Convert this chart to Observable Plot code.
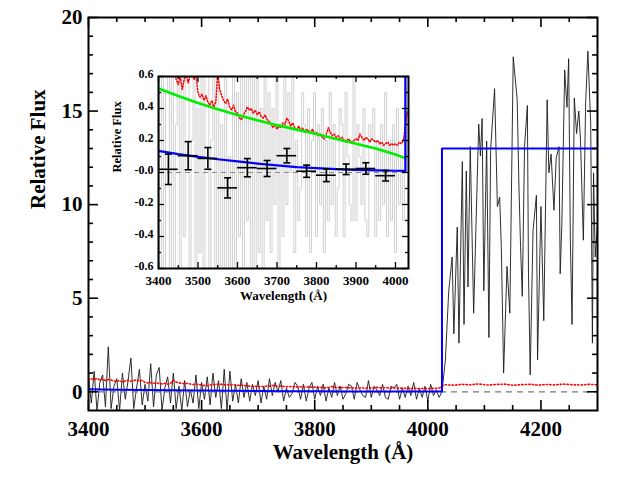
<!DOCTYPE html>
<html><head><meta charset="utf-8">
<script src="https://cdn.jsdelivr.net/npm/d3@7"></script>
<script src="https://cdn.jsdelivr.net/npm/@observablehq/plot@0.6"></script>
<style>
body{margin:0;background:#fff;}
#wrap{position:relative;width:630px;height:480px;overflow:hidden;}
#wrap svg{position:absolute;}
#wrap svg text{font-family:'Liberation Serif','Times New Roman',serif;}
</style></head><body><div id="wrap"></div>
<script>
// ---------- DATA ----------
const specWave = [
3400,3405,3410,3415,3420,3425,3430,3435,3440,3445,
3450,3455,3460,3465,3470,3475,3480,3485,3490,3495,
3500,3505,3510,3515,3520,3525,3530,3535,3540,3545,
3550,3555,3560,3565,3570,3575,3580,3585,3590,3595,
3600,3605,3610,3615,3620,3625,3630,3635,3640,3645,
3650,3655,3660,3665,3670,3675,3680,3685,3690,3695,
3700,3705,3710,3715,3720,3725,3730,3735,3740,3745,
3750,3755,3760,3765,3770,3775,3780,3785,3790,3795,
3800,3805,3810,3815,3820,3825,3830,3835,3840,3845,
3850,3855,3860,3865,3870,3875,3880,3885,3890,3895,
3900,3905,3910,3915,3920,3925,3930,3935,3940,3945,
3950,3955,3960,3965,3970,3975,3980,3985,3990,3995,
4000,4005,4010,4015,4020,
4025,4031,4037,4043,4046,4052,4055,4061,4064,4068,4071,4075,4081,4090,4093,4096,4099,4104,4108,4111,
4118,4123,4127,4130,4134,4140,4145,4151,4158,4161,4164,4167,4171,4176,4178,4181,4186,4192,4194,4200,
4205,4211,4214,4218,4223,4227,4232,4234,4237,4242,4246,4249,4252,4255,4259,4263,4267,4270,4275,4279,
4283,4288,4291,4293,4296,4300];
const specFlux = [
0.8,-0.6,1.1,-1.0,0.5,0.9,-0.8,2.4,-0.9,0.3,
0.7,-1.0,1.0,-0.4,0.6,1.8,-0.9,0.2,1.2,-0.7,
0.4,-0.5,1.5,-0.8,0.9,1.3,-1.0,0.2,0.8,-0.6,
1.0,-0.9,0.3,-1.0,0.6,-0.8,0.1,-0.6,0.9,-0.9,
0.5,-0.4,0.8,-0.7,1.0,-0.3,0.6,-0.9,1.2,-1.0,
1.1,-0.5,0.4,-0.6,0.7,-0.3,0.5,-0.5,0.4,-0.2,
0.6,-0.6,0.3,-0.4,0.7,-0.2,0.5,0.0,0.6,-0.5,
0.2,-0.3,-0.1,0.5,0.3,-0.4,0.4,-0.5,0.2,0.5,
-0.4,0.3,-0.2,0.4,-0.5,0.2,-0.3,0.5,-0.2,0.3,
-0.4,-0.1,0.4,0.3,-0.4,0.5,0.1,-0.2,-0.3,0.6,
-0.3,0.3,0.1,-0.2,0.4,-0.3,-0.4,0.3,0.2,0.4,
-0.4,0.2,-0.3,0.3,-0.2,0.5,-0.4,0.2,-0.3,0.3,
-0.5,0.4,-0.2,0.1,-0.3,
0.0,1.7,5.4,7.2,3.1,8.8,2.6,12.3,3.6,11.8,5.6,13.1,4.2,14.3,12.6,14.6,5.4,13.4,2.9,12.9,
16.2,9.9,10.4,7.7,1.0,6.7,4.2,17.9,15.6,11.1,7.7,5.1,13.1,15.3,6.3,0.9,8.6,10.5,1.7,9.9,
3.8,15.6,11.7,12.7,9.7,12.5,13.1,6.3,9.0,17.2,15.2,17.8,8.1,3.6,15.7,13.8,15.0,13.4,8.1,15.4,
18.2,14.3,2.6,11.7,7.2,9.0];

const redWave = [
3400,3405,3410,3415,3420,3425,3430,3435,3440,3445,
3450,3455,3460,3465,3470,3475,3480,3485,3490,3495,
3500,3505,3510,3515,3520,3525,3530,3535,3540,3545,
3550,3555,3560,3565,3570,3575,3580,3585,3590,3595,
3600,3605,3610,3615,3620,3625,3630,3635,3640,3645,
3650,3655,3660,3665,3670,3675,3680,3685,3690,3695,
3700,3705,3710,3715,3720,3725,3730,3735,3740,3745,
3750,3755,3760,3765,3770,3775,3780,3785,3790,3795,
3800,3805,3810,3815,3820,3825,3830,3835,3840,3845,
3850,3855,3860,3865,3870,3875,3880,3885,3890,3895,
3900,3905,3910,3915,3920,3925,3930,3935,3940,3945,
3950,3955,3960,3965,3970,3975,3980,3985,3990,3995,
4000,4005,4010,4015,4020,
4030,4045,4060,4075,4090,4105,4120,4135,4150,4165,4180,4195,4210,4225,4240,4255,4270,4285,4300];
const redFlux = [
0.66,0.70,0.64,0.72,0.62,0.68,0.60,0.66,0.63,0.58,
0.55,0.60,0.52,0.58,0.62,0.56,0.60,0.64,0.58,0.61,
0.50,0.47,0.49,0.45,0.48,0.44,0.42,0.45,0.41,0.44,
0.62,0.52,0.48,0.45,0.43,0.46,0.41,0.39,0.42,0.38,
0.37,0.34,0.33,0.36,0.38,0.41,0.39,0.40,0.37,0.39,
0.36,0.38,0.35,0.34,0.36,0.33,0.32,0.30,0.28,0.30,
0.27,0.29,0.28,0.31,0.30,0.34,0.32,0.29,0.31,0.28,
0.27,0.29,0.26,0.28,0.25,0.27,0.26,0.25,0.27,0.24,
0.25,0.23,0.24,0.22,0.21,0.24,0.28,0.25,0.23,0.24,
0.22,0.23,0.21,0.22,0.20,0.19,0.21,0.20,0.19,0.20,
0.21,0.20,0.24,0.22,0.20,0.22,0.21,0.19,0.21,0.20,
0.19,0.20,0.18,0.19,0.17,0.18,0.19,0.17,0.18,0.17,
0.18,0.17,0.19,0.18,0.20,
0.38,0.35,0.40,0.37,0.42,0.36,0.39,0.41,0.35,0.38,0.40,0.36,0.39,0.37,0.41,0.38,0.36,0.40,0.37];

const blueWave = [3400,3450,3500,3550,3600,3650,3700,3750,3800,3850,3900,3950,4000,4025,4025,4300];
const blueFlux = [0.135,0.115,0.098,0.083,0.070,0.056,0.044,0.034,0.027,0.021,0.017,0.013,0.011,0.010,13.0,13.0];

const greenWave = [3400,3450,3500,3550,3600,3650,3700,3750,3800,3850,3900,3950,4000,4025];
const greenFlux = [0.525,0.478,0.435,0.396,0.360,0.327,0.296,0.268,0.240,0.210,0.180,0.150,0.112,0.090];

const binWave = [3425,3475,3525,3575,3625,3675,3725,3775,3825,3875,3925,3975];
const binFlux = [0.020,0.105,0.088,-0.096,0.030,0.025,0.105,0.008,-0.017,0.020,0.025,-0.020];
const binErr  = [0.095,0.088,0.068,0.063,0.057,0.050,0.045,0.038,0.040,0.033,0.036,0.033];
const binHalfWidth = 25;

const xMajor = [3400,3600,3800,4000,4200];
const xMinor = [3450,3500,3550,3650,3700,3750,3850,3900,3950,4050,4100,4150,4250];
const yMajor = [0,5,10,15,20];
const yMinor = [1,2,3,4,6,7,8,9,11,12,13,14,16,17,18,19];

const xInsetMajor = [3400,3500,3600,3700,3800,3900,4000];
const xInsetMinor = [3450,3550,3650,3750,3850,3950];
const yInsetMajor = [-0.6,-0.4,-0.2,0,0.2,0.4,0.6];
const yInsetLabels = ["-0.6","-0.4","-0.2","-0.0","0.2","0.4","0.6"];
const yInsetMinor = [-0.5,-0.3,-0.1,0.1,0.3,0.5];

// ---------- TABLES ----------
const zip = (a, b) => a.slice(0, Math.min(a.length, b.length)).map((w, i) => ({w, f: b[i]}));
const spec = zip(specWave, specFlux);
const red = zip(redWave, redFlux);
const blue = zip(blueWave, blueFlux);
const green = zip(greenWave, greenFlux);
const bins = binWave.map((w, i) => ({w, f: binFlux[i], e: binErr[i], dw: binHalfWidth}));
const caps = bins.flatMap(d => [{w: d.w, f: d.f - d.e}, {w: d.w, f: d.f + d.e}]);

const serif = "'Liberation Serif','Times New Roman',serif";
const capSymbol = {draw(ctx, size) { const r = Math.sqrt(size / Math.PI); ctx.moveTo(-r, 0); ctx.lineTo(r, 0); }};

function tickMarks(xMaj, xMin, yMaj, yMin, fw, fh, lMaj, lMin, sw) {
  const o = {stroke: "black", strokeWidth: sw};
  return [
    Plot.ruleX(xMaj, {...o, insetTop: fh - lMaj}),
    Plot.ruleX(xMaj, {...o, insetBottom: fh - lMaj}),
    Plot.ruleX(xMin, {...o, insetTop: fh - lMin}),
    Plot.ruleX(xMin, {...o, insetBottom: fh - lMin}),
    Plot.ruleY(yMaj, {...o, insetRight: fw - lMaj}),
    Plot.ruleY(yMaj, {...o, insetLeft: fw - lMaj}),
    Plot.ruleY(yMin, {...o, insetRight: fw - lMin}),
    Plot.ruleY(yMin, {...o, insetLeft: fw - lMin})
  ];
}
const txt = {fontFamily: serif, fontWeight: "bold"};

// ---------- MAIN ----------
const W = 630, H = 480, mL = 88, mR = 33, mT = 17, mB = 70;
const fW = W - mL - mR, fH = H - mT - mB;
const main = Plot.plot({
  width: W, height: H, marginLeft: mL, marginRight: mR, marginTop: mT, marginBottom: mB,
  style: {fontFamily: serif, fontWeight: "bold", background: "white", color: "black"},
  x: {domain: [3400, 4300], label: null},
  y: {domain: [-1, 20], label: null},
  marks: [
    Plot.line(spec, {x: "w", y: "f", stroke: "#1a1a1a", strokeWidth: 0.9, clip: true}),
    Plot.line(red, {x: "w", y: "f", stroke: "#ff0000", strokeWidth: 1.6, strokeDasharray: "1.3,2.2", clip: true}),
    Plot.ruleY([0], {stroke: "#7a7a7a", strokeWidth: 1.3, strokeDasharray: "6,5"}),
    Plot.line(blue, {x: "w", y: "f", stroke: "#0000ff", strokeWidth: 2, clip: true}),
    ...tickMarks(xMajor, xMinor, yMajor, yMinor, fW, fH, 10, 5, 1.6),
    Plot.frame({stroke: "black", strokeWidth: 2}),
    Plot.axisX({...txt, ticks: xMajor, tickSize: 0, tickPadding: 11, fontSize: 21, label: null, tickFormat: d => String(d)}),
    Plot.axisY({...txt, ticks: yMajor, tickSize: 0, tickPadding: 6, fontSize: 21, label: null, tickFormat: d => String(d)}),
    Plot.text(["Wavelength (Å)"], {...txt, text: d => d, frameAnchor: "bottom", dy: 48, fontSize: 21}),
    Plot.text(["Relative Flux"], {...txt, text: d => d, frameAnchor: "left", dx: -50, dy: -5, rotate: -90, fontSize: 21})
  ]
});
main.style.left = "0px"; main.style.top = "0px";
document.getElementById("wrap").appendChild(main);

// ---------- INSET ----------
const iL = 52, iR = 6, iT = 12, iB = 42, iFW = 250, iFH = 192;
const inset = Plot.plot({
  width: iL + iFW + iR, height: iT + iFH + iB,
  marginLeft: iL, marginRight: iR, marginTop: iT, marginBottom: iB,
  style: {fontFamily: serif, fontWeight: "bold", background: "white", color: "black"},
  x: {domain: [3400, 4033], label: null},
  y: {domain: [-0.6, 0.6], label: null},
  marks: [
    Plot.line(spec, {x: "w", y: "f", curve: "step", stroke: "#cccccc", strokeWidth: 0.9, clip: true}),
    Plot.line(red, {x: "w", y: "f", stroke: "#ff0000", strokeWidth: 1.5, strokeDasharray: "1.2,1.8", clip: true}),
    Plot.line(green, {x: "w", y: "f", stroke: "#00ee00", strokeWidth: 2.6, clip: true}),
    Plot.ruleY([0], {stroke: "#8a8a8a", strokeWidth: 1.2, strokeDasharray: "5,4"}),
    Plot.line(blue, {x: "w", y: "f", stroke: "#0000ff", strokeWidth: 2.2, clip: true}),
    Plot.ruleY(bins, {y: "f", x1: d => d.w - d.dw, x2: d => d.w + d.dw, stroke: "black", strokeWidth: 1.6}),
    Plot.ruleX(bins, {x: "w", y1: d => d.f - d.e, y2: d => d.f + d.e, stroke: "black", strokeWidth: 1.6}),
    Plot.dot(caps, {x: "w", y: "f", symbol: capSymbol, r: 3.5, stroke: "black", strokeWidth: 1.6, fill: "none"}),
    ...tickMarks(xInsetMajor, xInsetMinor, yInsetMajor, yInsetMinor, iFW, iFH, 6, 3, 1.3),
    Plot.frame({stroke: "black", strokeWidth: 2}),
    Plot.axisX({...txt, ticks: xInsetMajor, tickSize: 0, tickPadding: 7, fontSize: 13, label: null, tickFormat: d => String(d)}),
    Plot.axisY({...txt, ticks: yInsetMajor, tickSize: 0, tickPadding: 5, fontSize: 12, label: null, dy: -2,
      tickFormat: d => yInsetLabels[yInsetMajor.findIndex(v => Math.abs(v - d) < 1e-9)]}),
    Plot.text(["Wavelength (Å)"], {...txt, text: d => d, frameAnchor: "bottom", dy: 31, fontSize: 13}),
    Plot.text(["Relative Flux"], {...txt, text: d => d, frameAnchor: "left", dx: -42, rotate: -90, fontSize: 12.5})
  ]
});
inset.style.left = (158 - iL) + "px"; inset.style.top = (76 - iT) + "px";
document.getElementById("wrap").appendChild(inset);
</script>
</body></html>
